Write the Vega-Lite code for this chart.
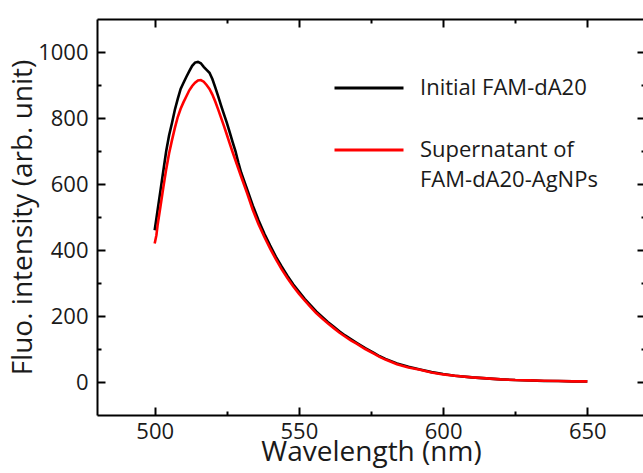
{
  "$schema": "https://vega.github.io/schema/vega-lite/v6.json",
  "width": 548,
  "height": 396,
  "autosize": "none",
  "padding": {"left": 97, "top": 19, "right": 0, "bottom": 58},
  "background": "white",
  "config": {
    "view": {"stroke": null},
    "font": "Open Sans",
    "axis": {
      "grid": false,
      "domainColor": "#000",
      "domainWidth": 2,
      "tickColor": "#000",
      "tickWidth": 2,
      "labelFont": "Open Sans",
      "labelFontSize": 22,
      "labelColor": "#1a1a1a",
      "titleFont": "Open Sans",
      "titleFontSize": 28,
      "titleFontWeight": "normal",
      "titleColor": "#1a1a1a"
    }
  },
  "datasets": {
    "spectra": [
      {"wl": 500, "fi": 460, "series": "Initial FAM-dA20"},
      {"wl": 501, "fi": 520, "series": "Initial FAM-dA20"},
      {"wl": 502, "fi": 580, "series": "Initial FAM-dA20"},
      {"wl": 503, "fi": 640, "series": "Initial FAM-dA20"},
      {"wl": 504, "fi": 700, "series": "Initial FAM-dA20"},
      {"wl": 505, "fi": 748, "series": "Initial FAM-dA20"},
      {"wl": 506, "fi": 785, "series": "Initial FAM-dA20"},
      {"wl": 507, "fi": 825, "series": "Initial FAM-dA20"},
      {"wl": 508, "fi": 858, "series": "Initial FAM-dA20"},
      {"wl": 509, "fi": 888, "series": "Initial FAM-dA20"},
      {"wl": 510, "fi": 907, "series": "Initial FAM-dA20"},
      {"wl": 511, "fi": 925, "series": "Initial FAM-dA20"},
      {"wl": 512, "fi": 942, "series": "Initial FAM-dA20"},
      {"wl": 513, "fi": 958, "series": "Initial FAM-dA20"},
      {"wl": 514, "fi": 968, "series": "Initial FAM-dA20"},
      {"wl": 515, "fi": 970, "series": "Initial FAM-dA20"},
      {"wl": 516, "fi": 966, "series": "Initial FAM-dA20"},
      {"wl": 517, "fi": 955, "series": "Initial FAM-dA20"},
      {"wl": 518, "fi": 946, "series": "Initial FAM-dA20"},
      {"wl": 519, "fi": 937, "series": "Initial FAM-dA20"},
      {"wl": 520, "fi": 918, "series": "Initial FAM-dA20"},
      {"wl": 521, "fi": 893, "series": "Initial FAM-dA20"},
      {"wl": 522, "fi": 866, "series": "Initial FAM-dA20"},
      {"wl": 523, "fi": 838, "series": "Initial FAM-dA20"},
      {"wl": 524, "fi": 812, "series": "Initial FAM-dA20"},
      {"wl": 525, "fi": 786, "series": "Initial FAM-dA20"},
      {"wl": 526, "fi": 757, "series": "Initial FAM-dA20"},
      {"wl": 527, "fi": 728, "series": "Initial FAM-dA20"},
      {"wl": 528, "fi": 700, "series": "Initial FAM-dA20"},
      {"wl": 529, "fi": 665, "series": "Initial FAM-dA20"},
      {"wl": 530, "fi": 634, "series": "Initial FAM-dA20"},
      {"wl": 532, "fi": 585, "series": "Initial FAM-dA20"},
      {"wl": 534, "fi": 535, "series": "Initial FAM-dA20"},
      {"wl": 536, "fi": 490, "series": "Initial FAM-dA20"},
      {"wl": 538, "fi": 450, "series": "Initial FAM-dA20"},
      {"wl": 540, "fi": 414, "series": "Initial FAM-dA20"},
      {"wl": 542, "fi": 380, "series": "Initial FAM-dA20"},
      {"wl": 544, "fi": 350, "series": "Initial FAM-dA20"},
      {"wl": 546, "fi": 322, "series": "Initial FAM-dA20"},
      {"wl": 548, "fi": 296, "series": "Initial FAM-dA20"},
      {"wl": 550, "fi": 274, "series": "Initial FAM-dA20"},
      {"wl": 552, "fi": 252, "series": "Initial FAM-dA20"},
      {"wl": 554, "fi": 233, "series": "Initial FAM-dA20"},
      {"wl": 556, "fi": 214, "series": "Initial FAM-dA20"},
      {"wl": 558, "fi": 198, "series": "Initial FAM-dA20"},
      {"wl": 560, "fi": 182, "series": "Initial FAM-dA20"},
      {"wl": 562, "fi": 168, "series": "Initial FAM-dA20"},
      {"wl": 564, "fi": 154, "series": "Initial FAM-dA20"},
      {"wl": 566, "fi": 141, "series": "Initial FAM-dA20"},
      {"wl": 568, "fi": 130, "series": "Initial FAM-dA20"},
      {"wl": 570, "fi": 119, "series": "Initial FAM-dA20"},
      {"wl": 573, "fi": 103, "series": "Initial FAM-dA20"},
      {"wl": 576, "fi": 88, "series": "Initial FAM-dA20"},
      {"wl": 578, "fi": 78, "series": "Initial FAM-dA20"},
      {"wl": 580, "fi": 70, "series": "Initial FAM-dA20"},
      {"wl": 584, "fi": 56, "series": "Initial FAM-dA20"},
      {"wl": 588, "fi": 46, "series": "Initial FAM-dA20"},
      {"wl": 592, "fi": 38, "series": "Initial FAM-dA20"},
      {"wl": 596, "fi": 30, "series": "Initial FAM-dA20"},
      {"wl": 600, "fi": 24, "series": "Initial FAM-dA20"},
      {"wl": 604, "fi": 19, "series": "Initial FAM-dA20"},
      {"wl": 610, "fi": 14, "series": "Initial FAM-dA20"},
      {"wl": 615, "fi": 11, "series": "Initial FAM-dA20"},
      {"wl": 620, "fi": 8, "series": "Initial FAM-dA20"},
      {"wl": 625, "fi": 6, "series": "Initial FAM-dA20"},
      {"wl": 630, "fi": 5, "series": "Initial FAM-dA20"},
      {"wl": 635, "fi": 3, "series": "Initial FAM-dA20"},
      {"wl": 640, "fi": 3, "series": "Initial FAM-dA20"},
      {"wl": 645, "fi": 2, "series": "Initial FAM-dA20"},
      {"wl": 650, "fi": 2, "series": "Initial FAM-dA20"},
      {"wl": 500, "fi": 420, "series": "Supernatant of FAM-dA20-AgNPs"},
      {"wl": 500.6, "fi": 445, "series": "Supernatant of FAM-dA20-AgNPs"},
      {"wl": 501, "fi": 475, "series": "Supernatant of FAM-dA20-AgNPs"},
      {"wl": 502, "fi": 532, "series": "Supernatant of FAM-dA20-AgNPs"},
      {"wl": 503, "fi": 590, "series": "Supernatant of FAM-dA20-AgNPs"},
      {"wl": 504, "fi": 645, "series": "Supernatant of FAM-dA20-AgNPs"},
      {"wl": 505, "fi": 693, "series": "Supernatant of FAM-dA20-AgNPs"},
      {"wl": 506, "fi": 733, "series": "Supernatant of FAM-dA20-AgNPs"},
      {"wl": 507, "fi": 770, "series": "Supernatant of FAM-dA20-AgNPs"},
      {"wl": 508, "fi": 803, "series": "Supernatant of FAM-dA20-AgNPs"},
      {"wl": 509, "fi": 828, "series": "Supernatant of FAM-dA20-AgNPs"},
      {"wl": 510, "fi": 848, "series": "Supernatant of FAM-dA20-AgNPs"},
      {"wl": 511, "fi": 866, "series": "Supernatant of FAM-dA20-AgNPs"},
      {"wl": 512, "fi": 884, "series": "Supernatant of FAM-dA20-AgNPs"},
      {"wl": 513, "fi": 897, "series": "Supernatant of FAM-dA20-AgNPs"},
      {"wl": 514, "fi": 907, "series": "Supernatant of FAM-dA20-AgNPs"},
      {"wl": 515, "fi": 914, "series": "Supernatant of FAM-dA20-AgNPs"},
      {"wl": 516, "fi": 915, "series": "Supernatant of FAM-dA20-AgNPs"},
      {"wl": 517, "fi": 910, "series": "Supernatant of FAM-dA20-AgNPs"},
      {"wl": 518, "fi": 900, "series": "Supernatant of FAM-dA20-AgNPs"},
      {"wl": 519, "fi": 888, "series": "Supernatant of FAM-dA20-AgNPs"},
      {"wl": 520, "fi": 871, "series": "Supernatant of FAM-dA20-AgNPs"},
      {"wl": 521, "fi": 850, "series": "Supernatant of FAM-dA20-AgNPs"},
      {"wl": 522, "fi": 826, "series": "Supernatant of FAM-dA20-AgNPs"},
      {"wl": 523, "fi": 801, "series": "Supernatant of FAM-dA20-AgNPs"},
      {"wl": 524, "fi": 776, "series": "Supernatant of FAM-dA20-AgNPs"},
      {"wl": 525, "fi": 750, "series": "Supernatant of FAM-dA20-AgNPs"},
      {"wl": 526, "fi": 723, "series": "Supernatant of FAM-dA20-AgNPs"},
      {"wl": 527, "fi": 697, "series": "Supernatant of FAM-dA20-AgNPs"},
      {"wl": 528, "fi": 672, "series": "Supernatant of FAM-dA20-AgNPs"},
      {"wl": 529, "fi": 647, "series": "Supernatant of FAM-dA20-AgNPs"},
      {"wl": 530, "fi": 622, "series": "Supernatant of FAM-dA20-AgNPs"},
      {"wl": 532, "fi": 573, "series": "Supernatant of FAM-dA20-AgNPs"},
      {"wl": 534, "fi": 522, "series": "Supernatant of FAM-dA20-AgNPs"},
      {"wl": 536, "fi": 478, "series": "Supernatant of FAM-dA20-AgNPs"},
      {"wl": 538, "fi": 440, "series": "Supernatant of FAM-dA20-AgNPs"},
      {"wl": 540, "fi": 405, "series": "Supernatant of FAM-dA20-AgNPs"},
      {"wl": 542, "fi": 372, "series": "Supernatant of FAM-dA20-AgNPs"},
      {"wl": 544, "fi": 342, "series": "Supernatant of FAM-dA20-AgNPs"},
      {"wl": 546, "fi": 315, "series": "Supernatant of FAM-dA20-AgNPs"},
      {"wl": 548, "fi": 290, "series": "Supernatant of FAM-dA20-AgNPs"},
      {"wl": 550, "fi": 268, "series": "Supernatant of FAM-dA20-AgNPs"},
      {"wl": 552, "fi": 247, "series": "Supernatant of FAM-dA20-AgNPs"},
      {"wl": 554, "fi": 228, "series": "Supernatant of FAM-dA20-AgNPs"},
      {"wl": 556, "fi": 209, "series": "Supernatant of FAM-dA20-AgNPs"},
      {"wl": 558, "fi": 193, "series": "Supernatant of FAM-dA20-AgNPs"},
      {"wl": 560, "fi": 178, "series": "Supernatant of FAM-dA20-AgNPs"},
      {"wl": 562, "fi": 164, "series": "Supernatant of FAM-dA20-AgNPs"},
      {"wl": 564, "fi": 150, "series": "Supernatant of FAM-dA20-AgNPs"},
      {"wl": 566, "fi": 138, "series": "Supernatant of FAM-dA20-AgNPs"},
      {"wl": 568, "fi": 126, "series": "Supernatant of FAM-dA20-AgNPs"},
      {"wl": 570, "fi": 116, "series": "Supernatant of FAM-dA20-AgNPs"},
      {"wl": 573, "fi": 100, "series": "Supernatant of FAM-dA20-AgNPs"},
      {"wl": 576, "fi": 86, "series": "Supernatant of FAM-dA20-AgNPs"},
      {"wl": 578, "fi": 76, "series": "Supernatant of FAM-dA20-AgNPs"},
      {"wl": 580, "fi": 68, "series": "Supernatant of FAM-dA20-AgNPs"},
      {"wl": 584, "fi": 54, "series": "Supernatant of FAM-dA20-AgNPs"},
      {"wl": 588, "fi": 44, "series": "Supernatant of FAM-dA20-AgNPs"},
      {"wl": 592, "fi": 37, "series": "Supernatant of FAM-dA20-AgNPs"},
      {"wl": 596, "fi": 29, "series": "Supernatant of FAM-dA20-AgNPs"},
      {"wl": 600, "fi": 23, "series": "Supernatant of FAM-dA20-AgNPs"},
      {"wl": 604, "fi": 19, "series": "Supernatant of FAM-dA20-AgNPs"},
      {"wl": 610, "fi": 14, "series": "Supernatant of FAM-dA20-AgNPs"},
      {"wl": 615, "fi": 11, "series": "Supernatant of FAM-dA20-AgNPs"},
      {"wl": 620, "fi": 8, "series": "Supernatant of FAM-dA20-AgNPs"},
      {"wl": 625, "fi": 6, "series": "Supernatant of FAM-dA20-AgNPs"},
      {"wl": 630, "fi": 5, "series": "Supernatant of FAM-dA20-AgNPs"},
      {"wl": 635, "fi": 4, "series": "Supernatant of FAM-dA20-AgNPs"},
      {"wl": 640, "fi": 3, "series": "Supernatant of FAM-dA20-AgNPs"},
      {"wl": 645, "fi": 2, "series": "Supernatant of FAM-dA20-AgNPs"},
      {"wl": 650, "fi": 2, "series": "Supernatant of FAM-dA20-AgNPs"}
    ]
  },
  "data": {"name": "spectra"},
  "layer": [
    {
      "mark": {"type": "line", "strokeWidth": 2.6, "interpolate": "linear"},
      "encoding": {
        "x": {
          "field": "wl", "type": "quantitative",
          "scale": {"domain": [480, 670], "nice": false, "zero": false},
          "axis": {
            "orient": "bottom",
            "title": "Wavelength (nm)",
            "values": [500, 550, 600, 650],
            "tickSize": -8,
            "labelPadding": 14,
            "titlePadding": -4
          }
        },
        "y": {
          "field": "fi", "type": "quantitative",
          "scale": {"domain": [-100, 1100], "nice": false, "zero": false},
          "axis": {
            "orient": "left",
            "title": "Fluo. intensity (arb. unit)",
            "values": [0, 200, 400, 600, 800, 1000],
            "format": "d",
            "tickSize": -8,
            "labelPadding": 17,
            "titlePadding": 0
          }
        },
        "color": {
          "field": "series", "type": "nominal", "sort": null,
          "scale": {"domain": ["Initial FAM-dA20", "Supernatant of FAM-dA20-AgNPs"], "range": ["#000000", "#ff0000"]},
          "legend": {
            "orient": "none",
            "legendX": 236,
            "legendY": 33,
            "title": null,
            "padding": 0,
            "symbolType": "stroke",
            "symbolSize": 4761,
            "symbolStrokeWidth": 3,
            "labelFont": "Open Sans",
            "labelFontSize": 22,
            "labelColor": "#1a1a1a",
            "labelOffset": 15,
            "labelLimit": 400,
            "labelBaseline": "top",
            "rowPadding": 15,
            "labelExpr": "datum.label == 'Supernatant of FAM-dA20-AgNPs' ? ['Supernatant of', 'FAM-dA20-AgNPs'] : datum.label",
            "encode": {"labels": {"update": {"dy": {"value": -10}, "lineHeight": {"value": 30}}}}
          }
        }
      }
    },
    {
      "mark": {"type": "line", "strokeOpacity": 0},
      "encoding": {
        "x": {
          "field": "wl", "type": "quantitative",
          "scale": {"domain": [480, 670], "nice": false, "zero": false},
          "axis": {"orient": "top", "title": null, "labels": false, "values": [500, 550, 600, 650], "tickSize": -8}
        },
        "y": {
          "field": "fi", "type": "quantitative",
          "scale": {"domain": [-100, 1100], "nice": false, "zero": false},
          "axis": {"orient": "right", "title": null, "labels": false, "values": [0, 200, 400, 600, 800, 1000], "tickSize": -8}
        }
      }
    },
    {
      "mark": {"type": "line", "strokeOpacity": 0},
      "encoding": {
        "x": {
          "field": "wl", "type": "quantitative",
          "scale": {"domain": [480, 670], "nice": false, "zero": false},
          "axis": {"orient": "bottom", "title": null, "labels": false, "domain": false, "values": [525, 575, 625], "tickSize": -4}
        },
        "y": {
          "field": "fi", "type": "quantitative",
          "scale": {"domain": [-100, 1100], "nice": false, "zero": false},
          "axis": {"orient": "left", "title": null, "labels": false, "domain": false, "values": [100, 300, 500, 700, 900], "tickSize": -4}
        }
      }
    },
    {
      "mark": {"type": "line", "strokeOpacity": 0},
      "encoding": {
        "x": {
          "field": "wl", "type": "quantitative",
          "scale": {"domain": [480, 670], "nice": false, "zero": false},
          "axis": {"orient": "top", "title": null, "labels": false, "domain": false, "values": [525, 575, 625], "tickSize": -4}
        },
        "y": {
          "field": "fi", "type": "quantitative",
          "scale": {"domain": [-100, 1100], "nice": false, "zero": false},
          "axis": {"orient": "right", "title": null, "labels": false, "domain": false, "values": [100, 300, 500, 700, 900], "tickSize": -4}
        }
      }
    }
  ],
  "resolve": {"axis": {"x": "independent", "y": "independent"}}
}
